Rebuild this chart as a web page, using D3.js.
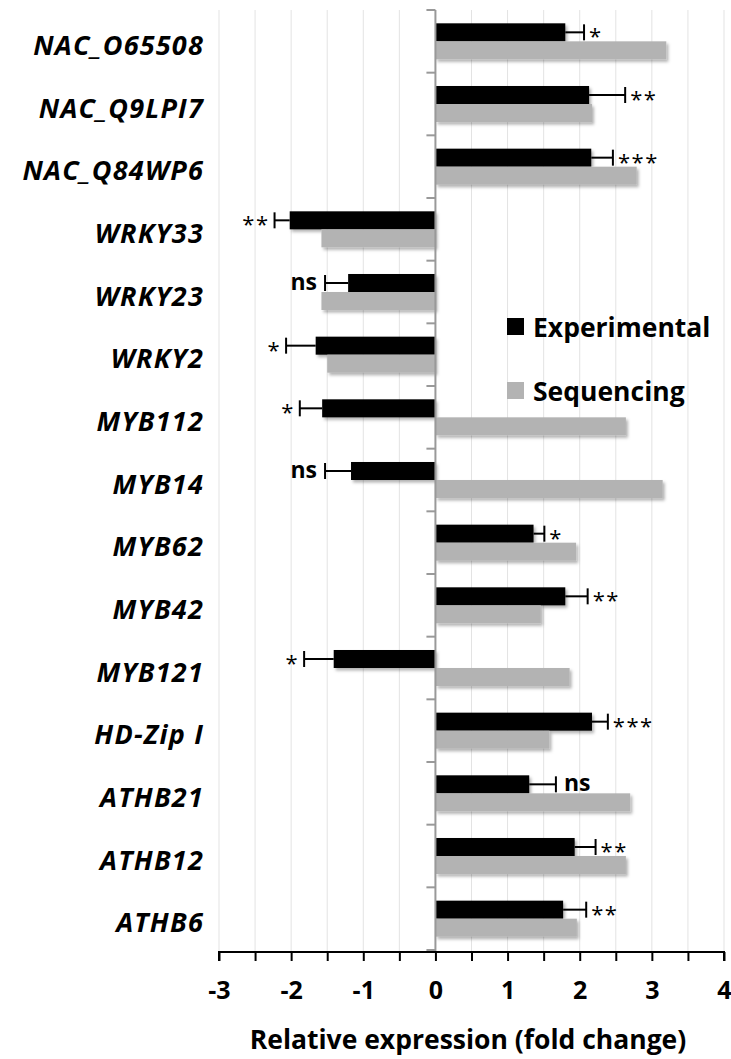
<!DOCTYPE html>
<html>
<head>
<meta charset="utf-8">
<script src="https://cdn.jsdelivr.net/npm/d3@7"></script>
<style>
  body { margin: 0; background: #fff; }
  svg { display: block; font-family: "Open Sans", sans-serif; }
</style>
</head>
<body>
<div id="chart"></div>
<script>
// data
const genes = ["NAC_O65508", "NAC_Q9LPI7", "NAC_Q84WP6", "WRKY33", "WRKY23", "WRKY2",
  "MYB112", "MYB14", "MYB62", "MYB42", "MYB121", "HD-Zip I", "ATHB21", "ATHB12", "ATHB6"];
const experimental = [1.80, 2.13, 2.16, -2.02, -1.21, -1.66, -1.57, -1.17, 1.36, 1.80, -1.41, 2.17, 1.30, 1.93, 1.77];
const expError = [0.26, 0.50, 0.30, 0.21, 0.32, 0.41, 0.31, 0.36, 0.15, 0.31, 0.41, 0.22, 0.37, 0.29, 0.32];
const sequencing = [3.20, 2.17, 2.79, -1.58, -1.58, -1.50, 2.64, 3.15, 1.95, 1.46, 1.86, 1.58, 2.70, 2.64, 1.96];
const signif = ["*", "**", "***", "**", "ns", "*", "*", "ns", "*", "**", "*", "***", "ns", "**", "**"];
const xTicks = [-3, -2, -1, 0, 1, 2, 3, 4];
const seriesNames = ["Experimental", "Sequencing"];
const seriesColors = ["#000000", "#b3b3b3"];

const width = 731, height = 1059;
const svg = d3.select("#chart").append("svg")
  .attr("width", width)
  .attr("height", height);

// soft excel-ish shadow
const defs = svg.append("defs");
defs.append("filter").attr("id", "shadow")
  .attr("x", "-5%").attr("y", "-20%").attr("width", "115%").attr("height", "160%")
  .append("feDropShadow")
  .attr("dx", 2).attr("dy", 2.5).attr("stdDeviation", 1.6)
  .attr("flood-color", "#000").attr("flood-opacity", 0.3);

const x = d3.scaleLinear().domain([-3, 4]).range([219, 724]);
const y = d3.scaleBand().domain(genes).range([10, 950]).paddingInner(0).paddingOuter(0);
const ySub = d3.scaleBand().domain(seriesNames).range([0, y.bandwidth()]).paddingInner(0).paddingOuter(0.74);

const axisY = 952;

// vertical gridlines every 0.5
const grid = d3.range(-3, 4.01, 0.5);
svg.append("g").selectAll("line")
  .data(grid.filter(d => d !== 0))
  .join("line")
  .attr("x1", d => x(d)).attr("x2", d => x(d))
  .attr("y1", 10).attr("y2", axisY)
  .attr("stroke", "#e3e3e3").attr("stroke-width", 1);

// bars
const rows = genes.map((g, i) => ({
  gene: g, exp: experimental[i], err: expError[i], seq: sequencing[i], sig: signif[i]
}));

const barG = svg.append("g").attr("filter", "url(#shadow)");
rows.forEach(r => {
  [["Experimental", r.exp], ["Sequencing", r.seq]].forEach(([s, v], k) => {
    barG.append("rect")
      .attr("x", x(Math.min(0, v)))
      .attr("y", y(r.gene) + ySub(s))
      .attr("width", Math.abs(x(v) - x(0)))
      .attr("height", ySub.bandwidth())
      .attr("fill", seriesColors[k]);
  });
});

// zero axis with small category ticks
svg.append("line")
  .attr("x1", x(0)).attr("x2", x(0))
  .attr("y1", 10).attr("y2", axisY)
  .attr("stroke", "#999").attr("stroke-width", 2);
svg.append("g").selectAll("line")
  .data(genes.concat(["__end"]))
  .join("line")
  .attr("x1", x(0) - 9).attr("x2", x(0))
  .attr("y1", (d, i) => y.range()[0] + i * y.step())
  .attr("y2", (d, i) => y.range()[0] + i * y.step())
  .attr("stroke", "#999").attr("stroke-width", 2);

// error bars and significance labels
const errG = svg.append("g");
rows.forEach(r => {
  const sign = r.exp < 0 ? -1 : 1;
  const cy = y(r.gene) + ySub("Experimental") + ySub.bandwidth() / 2;
  const xEnd = x(r.exp + sign * r.err);
  errG.append("line")
    .attr("x1", x(r.exp)).attr("x2", xEnd)
    .attr("y1", cy).attr("y2", cy)
    .attr("stroke", "#000").attr("stroke-width", 2);
  errG.append("line")
    .attr("x1", xEnd).attr("x2", xEnd)
    .attr("y1", cy - 8).attr("y2", cy + 8)
    .attr("stroke", "#000").attr("stroke-width", 2);
  const isNs = r.sig === "ns";
  errG.append("text")
    .attr("x", xEnd + sign * (isNs ? 8 : 5))
    .attr("y", cy)
    .attr("dy", isNs ? "0.3em" : "0.55em")
    .attr("text-anchor", sign < 0 ? "end" : "start")
    .attr("font-size", isNs ? 23 : 22)
    .attr("font-weight", isNs ? 700 : 400)
    .attr("letter-spacing", isNs ? 0 : 1.5)
    .attr("fill", "#000")
    .text(r.sig);
});

// category labels
svg.append("g").selectAll("text")
  .data(genes)
  .join("text")
  .attr("x", 204)
  .attr("y", d => y(d) + y.bandwidth() / 2 + 4)
  .attr("dy", "0.36em")
  .attr("text-anchor", "end")
  .attr("font-size", 27)
  .attr("letter-spacing", 1.2)
  .attr("font-weight", 700)
  .attr("font-style", "italic")
  .attr("fill", "#000")
  .text(d => d);

// bottom axis
const xAxis = d3.axisBottom(x)
  .tickValues(d3.range(-3, 4.01, 0.5))
  .tickSize(9)
  .tickFormat(d => xTicks.includes(d) ? d : "");
const ax = svg.append("g")
  .attr("transform", `translate(0,${axisY})`)
  .call(xAxis);
ax.select(".domain").attr("stroke", "#000").attr("stroke-width", 2)
  .attr("d", `M${x(-3)},9V0H${x(4)}V9`);
ax.selectAll(".tick line").attr("stroke", "#000").attr("stroke-width", 2);
ax.selectAll(".tick text")
  .attr("font-family", "Open Sans, sans-serif")
  .attr("font-size", 25)
  .attr("font-weight", 700)
  .attr("fill", "#000")
  .attr("y", 38)
  .attr("dy", "0.35em");

svg.append("text")
  .attr("x", 468)
  .attr("y", 1049)
  .attr("text-anchor", "middle")
  .attr("font-size", 26.5)
  .attr("font-weight", 700)
  .attr("fill", "#000")
  .text("Relative expression (fold change)");

// legend
const legend = svg.append("g");
seriesNames.forEach((s, i) => {
  const ly = 327 + i * 64;
  legend.append("rect")
    .attr("x", 507).attr("y", ly - 9)
    .attr("width", 17).attr("height", 17)
    .attr("fill", seriesColors[i]);
  legend.append("text")
    .attr("x", 533).attr("y", ly)
    .attr("dy", "0.36em")
    .attr("font-size", 26.5)
    .attr("font-weight", 700)
    .attr("fill", "#000")
    .text(s);
});
</script>
</body>
</html>
